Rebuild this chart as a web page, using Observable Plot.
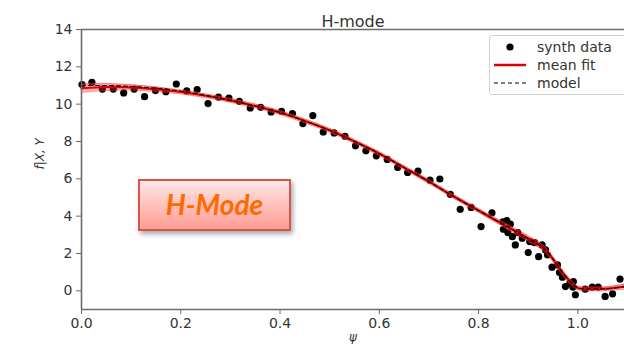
<!DOCTYPE html>
<html>
<head>
<meta charset="utf-8">
<script src="https://cdn.jsdelivr.net/npm/d3@7"></script>
<script src="https://cdn.jsdelivr.net/npm/@observablehq/plot@0.6"></script>
<style>
  html, body { margin: 0; padding: 0; background: #fff; }
  #wrap { position: relative; width: 624px; height: 345px; overflow: hidden; font-family: "DejaVu Sans", sans-serif; }
  #legend { position: absolute; left: 489px; top: 35px; width: 150px; height: 60px; background: #fff; border: 1px solid #d0d0d0; border-radius: 3px; box-sizing: border-box; }
  #hbox { position: absolute; left: 138px; top: 179px; width: 153px; height: 52px; box-sizing: border-box;
          border: 2px solid #d2554f; background: linear-gradient(#ffe6e4, #ff9d94);
          box-shadow: 2px 3px 5px rgba(0,0,0,0.35); display: flex; align-items: center; justify-content: center;
          color: #ff6a00; font-family: Lato, "Open Sans", sans-serif; font-weight: bold; font-style: italic; font-size: 28px; padding-bottom: 2px; }
</style>
</head>
<body>
<div id="wrap"></div>
<script>
// ---- data ----
const xTicks = [0, 0.2, 0.4, 0.6, 0.8, 1.0];
const yTicks = [0, 2, 4, 6, 8, 10, 12, 14];

const synthX = [0.001,0.021,0.042,0.064,0.085,0.106,0.127,0.149,0.170,0.191,0.212,0.233,0.255,0.276,0.297,0.318,0.340,0.361,0.382,0.403,0.425,0.446,0.466,0.487,0.509,0.531,0.552,0.573,0.594,0.616,0.637,0.657,0.678,0.702,0.722,0.743,0.763,0.785,0.805,0.827,
  0.849,0.857,0.864,0.850,0.859,0.868,0.874,0.879,0.888,0.900,0.903,0.913,0.921,0.928,0.935,0.939,0.948,0.959,0.963,0.969,0.975,0.984,0.991,0.995,0.990,
  1.015,1.029,1.041,1.055,1.070,1.085];
const synthY = [11.05,11.17,10.81,10.81,10.60,10.81,10.40,10.73,10.67,11.08,10.71,10.78,10.03,10.38,10.33,10.15,9.80,9.83,9.58,9.62,9.50,8.96,9.39,8.51,8.46,8.28,7.77,7.50,7.23,7.04,6.61,6.34,6.41,5.93,5.99,5.17,4.37,4.47,3.44,4.18,
  3.70,3.76,3.58,3.30,3.12,2.90,2.46,3.12,2.82,2.05,2.64,2.58,1.83,2.46,2.19,1.92,1.27,1.39,0.98,0.73,0.23,0.41,0.50,-0.21,0.20,
  0.09,0.20,0.20,-0.30,-0.16,0.63];

const fitX = [0,0.05,0.10,0.15,0.20,0.25,0.30,0.35,0.40,0.45,0.50,0.55,0.60,0.65,0.70,0.75,0.80,0.85,0.90,0.93,0.95,0.97,0.99,1.00,1.03,1.06,1.10];
const fitY = [10.85,10.92,10.90,10.80,10.65,10.45,10.20,9.90,9.55,9.10,8.60,8.00,7.35,6.60,5.85,5.05,4.30,3.55,2.80,2.30,1.70,0.95,0.35,0.15,0.10,0.12,0.25];
const fitSpread = [0.22,0.18,0.14,0.12,0.10,0.10,0.10,0.10,0.10,0.10,0.10,0.10,0.10,0.10,0.10,0.10,0.10,0.12,0.14,0.14,0.14,0.14,0.12,0.10,0.10,0.10,0.14];

const modelX = [0,0.05,0.10,0.15,0.20,0.25,0.30,0.35,0.40,0.45,0.50,0.55,0.60,0.65,0.70,0.75,0.80,0.85,0.90,0.93,0.95,0.97,0.99,1.00,1.03,1.06,1.10];
const modelY = [11.00,11.00,10.95,10.85,10.70,10.47,10.20,9.90,9.55,9.10,8.60,8.00,7.35,6.60,5.85,5.05,4.30,3.55,2.80,2.30,1.70,0.95,0.35,0.15,0.10,0.12,0.25];

const titleText = "H-mode";
const xLabel = "ψ";
const yLabel = "f|X, Y";
const legendLabels = ["synth data", "mean fit", "model"];
const annotation = "H-Mode";

// ---- tables ----
const synth = synthX.map((x, i) => ({x, y: synthY[i]}));
const fit = fitX.map((x, i) => ({x, y: fitY[i], lo: fitY[i] - fitSpread[i], hi: fitY[i] + fitSpread[i]}));
const model = modelX.map((x, i) => ({x, y: modelY[i]}));

const spine = "#6b6b6b";
const chart = Plot.plot({
  width: 624, height: 345,
  marginLeft: 81, marginRight: 0, marginTop: 29, marginBottom: 36,
  style: {background: "#fff", color: "#333", fontFamily: "DejaVu Sans, sans-serif", fontSize: "14px"},
  x: {domain: [0, 1.094]},
  y: {domain: [-1, 14]},
  marks: [
    Plot.dot(synth, {x: "x", y: "y", r: 3.6, fill: "black", stroke: "none"}),
    Plot.areaY(fit, {x: "x", y1: "lo", y2: "hi", fill: "#ff2020", fillOpacity: 0.35, curve: "catmull-rom"}),
    Plot.line(fit, {x: "x", y: "lo", stroke: "#ff3030", strokeWidth: 1, strokeOpacity: 0.6, curve: "catmull-rom"}),
    Plot.line(fit, {x: "x", y: "hi", stroke: "#ff3030", strokeWidth: 1, strokeOpacity: 0.6, curve: "catmull-rom"}),
    Plot.line(fit, {x: "x", y: "y", stroke: "#e00000", strokeWidth: 2.2, curve: "catmull-rom"}),
    Plot.line(model, {x: "x", y: "y", stroke: "black", strokeWidth: 1.1, strokeDasharray: "4,3", curve: "catmull-rom"}),
    Plot.ruleX([0], {stroke: spine, strokeWidth: 1.6}),
    Plot.ruleY([-1], {stroke: spine, strokeWidth: 1.6}),
    Plot.ruleY([14], {stroke: spine, strokeWidth: 1.6}),
    Plot.axisX({ticks: xTicks, tickFormat: d3.format(".1f"), tickSize: 5, tickPadding: 4, label: null, stroke: spine, fontSize: 14}),
    Plot.axisY({ticks: yTicks, tickSize: 5, tickPadding: 4, label: null, stroke: spine, fontSize: 14}),
    Plot.text([titleText], {frameAnchor: "top", dy: -14, fontSize: 16, fill: "#333"}),
    Plot.text([xLabel], {frameAnchor: "bottom", dy: 31, fontSize: 12, fontStyle: "italic", fill: "#333"}),
    Plot.text([yLabel], {frameAnchor: "left", dx: -41, rotate: -90, fontSize: 12, fontStyle: "italic", fill: "#333"})
  ]
});

const wrap = document.getElementById("wrap");
wrap.appendChild(chart);

// legend
const leg = document.createElement("div");
leg.id = "legend";
leg.innerHTML = `<svg width="150" height="60" style="font-family:DejaVu Sans, sans-serif;font-size:14px;fill:#333">
  <circle cx="20" cy="11" r="3.6" fill="black"></circle>
  <text x="47" y="16">${legendLabels[0]}</text>
  <line x1="4" x2="36" y1="29" y2="29" stroke="#e00000" stroke-width="2.5"></line>
  <text x="47" y="34">${legendLabels[1]}</text>
  <line x1="4" x2="36" y1="47" y2="47" stroke="black" stroke-width="1.2" stroke-dasharray="4,3"></line>
  <text x="47" y="52">${legendLabels[2]}</text>
</svg>`;
wrap.appendChild(leg);

// annotation box
const hb = document.createElement("div");
hb.id = "hbox";
hb.textContent = annotation;
wrap.appendChild(hb);
</script>
</body>
</html>
